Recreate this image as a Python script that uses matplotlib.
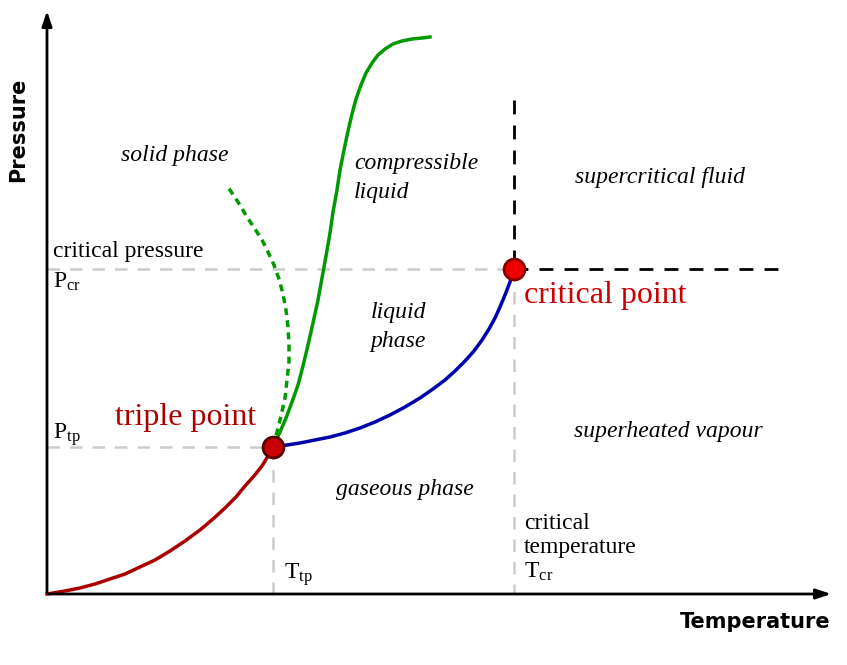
import matplotlib
matplotlib.use("Agg")
import matplotlib.pyplot as plt
plt.rcParams['mathtext.fontset'] = 'stix'

# curves (pixel-like coordinates, y downward)
red_x = [47, 65, 80, 95, 110, 125, 140, 155, 170, 185, 200, 213, 225, 236, 245, 254, 262, 268, 273]
red_y = [594, 591, 588, 584, 579, 574, 567, 560, 551, 541, 530, 519, 508, 497, 486, 476, 466, 456, 447]
blue_x = [273, 287, 300, 315, 330, 345, 360, 375, 390, 405, 420, 433, 445, 455, 465, 474, 482, 489, 495, 500, 505, 510, 514]
blue_y = [447, 445, 443, 440, 437, 433, 428, 422, 415, 407, 398, 389, 380, 371, 361, 351, 340, 329, 318, 307, 295, 282, 269]
green_x = [273, 280, 286, 292, 298, 303, 308, 313, 318, 322, 326, 330, 333, 337, 340, 344, 348, 352, 356, 361, 366, 372, 378, 385, 393, 402, 412, 422, 430]
green_y = [447, 432, 418, 402, 385, 366, 345, 323, 300, 278, 256, 233, 212, 190, 170, 150, 131, 114, 99, 85, 73, 63, 55, 49, 44, 41, 39, 38, 37]
dash_x = [273, 277, 281, 285, 287, 289, 289, 288, 286, 283, 279, 274, 268, 262, 255, 247, 238, 228]
dash_y = [447, 432, 416, 398, 380, 362, 345, 327, 310, 294, 279, 265, 252, 240, 229, 217, 202, 187]
triple = (273, 447)
critical = (514, 269)

fig = plt.figure(figsize=(8.47, 6.65), dpi=100)
ax = fig.add_axes([0, 0, 1, 1])
ax.set_xlim(0, 847); ax.set_ylim(665, 0); ax.axis('off')

gray = dict(color='#cccccc', lw=1.8, ls=(0, (5, 4)))
ax.plot([47, critical[0]], [critical[1]] * 2, **gray)
ax.plot([47, triple[0]], [triple[1]] * 2, **gray)
ax.plot([triple[0]] * 2, [triple[1], 594], **gray)
ax.plot([critical[0]] * 2, [critical[1], 594], **gray)
blk = dict(color='black', lw=2, ls=(0, (5, 4)))
ax.plot([critical[0]] * 2, [100, critical[1]], **blk)
ax.plot([critical[0], 780], [critical[1]] * 2, **blk)

ax.plot(red_x, red_y, color='#aa0000', lw=2.5, solid_joinstyle='round')
ax.plot(blue_x, blue_y, color='#0000aa', lw=2.5, solid_joinstyle='round')
ax.plot(green_x, green_y, color='#009900', lw=2.5, solid_joinstyle='round')
ax.plot(dash_x, dash_y, color='#009900', lw=2.5, ls=(0, (2, 1.5)))
ax.plot(*triple, 'o', ms=15, mfc='#cc0000', mec='#550000', mew=2)
ax.plot(*critical, 'o', ms=15, mfc='#ee0000', mec='#880000', mew=2)

ax.annotate('', xy=(47, 8), xytext=(47, 595), arrowprops=dict(arrowstyle='-|>,head_length=0.9,head_width=0.3', color='black', lw=2))
ax.annotate('', xy=(834, 594), xytext=(46, 594), arrowprops=dict(arrowstyle='-|>,head_length=0.9,head_width=0.3', color='black', lw=2))

ax.text(18, 130, 'Pressure', rotation=90, ha='center', va='center', fontsize=15, fontweight='bold', family='DejaVu Sans')
ax.text(830, 622, 'Temperature', ha='right', va='center', fontsize=15, fontweight='bold', family='DejaVu Sans')

s = dict(family='Liberation Serif', fontsize=17)
si = dict(family='Liberation Serif', fontsize=17, style='italic')
ax.text(175, 155, 'solid phase', ha='center', va='center', **si)
ax.text(354, 178, 'compressible\nliquid', ha='left', va='center', linespacing=1.5, **si)
ax.text(398, 327, 'liquid\nphase', ha='center', va='center', linespacing=1.5, **si)
ax.text(660, 177, 'supercritical fluid', ha='center', va='center', **si)
ax.text(668, 432, 'superheated vapour', ha='center', va='center', **si)
ax.text(405, 490, 'gaseous phase', ha='center', va='center', **si)
ax.text(53, 252, 'critical pressure', ha='left', va='center', **s)
ax.text(53, 282, 'P$_{\\mathregular{cr}}$', ha='left', va='center', **s)
ax.text(53, 435, 'P$_{\\mathregular{tp}}$', ha='left', va='center', **s)
ax.text(284, 575, 'T$_{\\mathregular{tp}}$', ha='left', va='center', **s)
ax.text(524, 548, 'critical\ntemperature\nT$_{\\mathregular{cr}}$', ha='left', va='center', linespacing=1.2, **s)
ax.text(115, 417, 'triple point', ha='left', va='center', color='#aa0000', family='Liberation Serif', fontsize=23)
ax.text(524, 295, 'critical point', ha='left', va='center', color='#cc0000', family='Liberation Serif', fontsize=23)
fig.savefig('out.png', dpi=100)
